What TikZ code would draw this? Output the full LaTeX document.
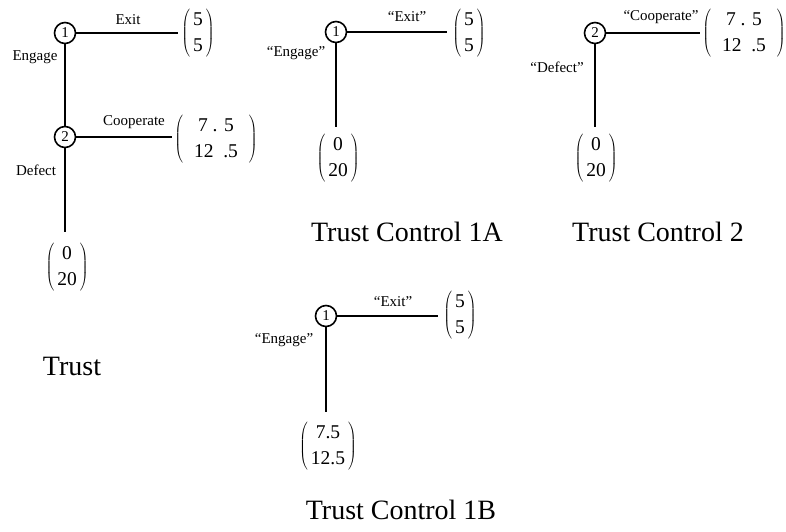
\documentclass[tikz,border=0pt]{standalone}
\usepackage{fontspec}
\setmainfont{Liberation Serif}
\usetikzlibrary{calc}

% payoff column vector: optional inner padding, two entries
\newcommand\payoffvec[3][3pt]{$\left(\begin{tabular}{@{\hspace{#1}}c@{\hspace{#1}}}#2\\#3\end{tabular}\right)$}

\tikzset{
  decision/.style={circle, draw, line width=1.6pt, minimum size=21pt, inner sep=0pt,
                   font=\fontsize{15}{15}\selectfont},
  branch/.style={line width=2pt},
  act/.style={font=\fontsize{15}{18}\selectfont, inner sep=0pt},
  payoff/.style={inner sep=0pt, font=\fontsize{19.5}{26}\selectfont},
  gametitle/.style={font=\fontsize{28}{32}\selectfont, inner sep=0pt},
}

\begin{document}
\begin{tikzpicture}[x=1pt, y=-1pt]
\useasboundingbox (0,0) rectangle (786,531);

% ---- Trust ----
\node[decision] (t1) at (65,33) {1};
\node[decision] (t2) at (65,137) {2};
\node[payoff] (tv1) at (198,33) {\payoffvec{5}{5}};
\node[payoff] (tv2) at (216,139) {\payoffvec[11pt]{7 . 5}{12\ \ .5}};
\node[payoff] (tv3) at (67,267) {\payoffvec{0}{20}};
\draw[branch, shorten >=3pt] (t1.east) -- (t1.east -| tv1.west);
\draw[branch] (t1) -- (t2);
\draw[branch, shorten >=2pt] (t2.east) -- (t2.east -| tv2.west);
\draw[branch, shorten >=9pt] (t2.south) -- (t2.south |- tv3.north);
\node[act] (tl1) at (128,20) {Exit};
\node[act] (tl2) at (35,57) {Engage};
\node[act] (tl3) at (134,122) {Cooperate};
\node[act] (tl4) at (36,170) {Defect};
\node[gametitle] (tt) at (72,366) {Trust};

% ---- Trust Control 1A ----
\node[decision] (a1) at (336,32) {1};
\node[payoff] (av1) at (469,33) {\payoffvec{5}{5}};
\node[payoff] (av2) at (338,158) {\payoffvec{0}{20}};
\draw[branch, shorten >=5pt] (a1.east) -- (a1.east -| av1.west);
\draw[branch, shorten >=5pt] (a1.south) -- (a1.south |- av2.north);
\node[act] (al1) at (407,17) {“Exit”};
\node[act] (al2) at (296,53) {“Engage”};
\node[gametitle] (at) at (407,232) {Trust Control 1A};

% ---- Trust Control 2 ----
\node[decision] (b1) at (595,33) {2};
\node[payoff] (bv1) at (744,33) {\payoffvec[11pt]{7 . 5}{12\ \ .5}};
\node[payoff] (bv2) at (596,158) {\payoffvec{0}{20}};
\draw[branch, shorten >=2pt] (b1.east) -- (b1.east -| bv1.west);
\draw[branch, shorten >=5pt] (b1.south) -- (b1.south |- bv2.north);
\node[act] (bl1) at (661,17) {“Cooperate”};
\node[act] (bl2) at (557,67) {“Defect”};
\node[gametitle] (bt) at (658,232) {Trust Control 2};

% ---- Trust Control 1B ----
\node[decision] (c1) at (326,316) {1};
\node[payoff] (cv1) at (460,315) {\payoffvec{5}{5}};
\node[payoff] (cv2) at (328,446) {\payoffvec{7.5}{12.5}};
\draw[branch, shorten >=5pt] (c1.east) -- (c1.east -| cv1.west);
\draw[branch, shorten >=8pt] (c1.south) -- (c1.south |- cv2.north);
\node[act] (cl1) at (393,302) {“Exit”};
\node[act] (cl2) at (284,340) {“Engage”};
\node[gametitle] (ct) at (401,510) {Trust Control 1B};
\end{tikzpicture}
\end{document}
